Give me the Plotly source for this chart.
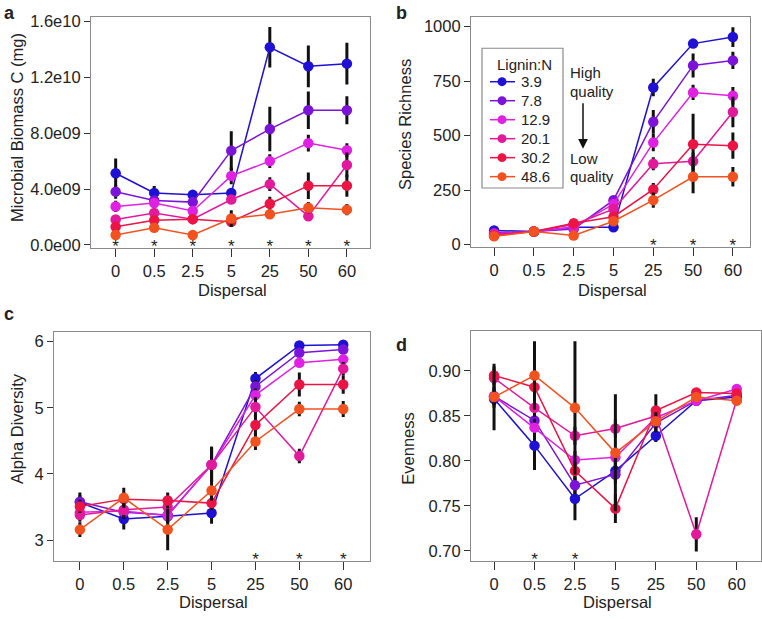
import plotly.graph_objects as go

dispersal = ["0", "0.5", "2.5", "5", "25", "50", "60"]
lignin = ["3.9", "7.8", "12.9", "20.1", "30.2", "48.6"]
colors = ["#1E10D4", "#7B14D8", "#E020E2", "#E3199C", "#EB1445", "#F2521F"]

# Panel a: microbial biomass C (mg)
biomass = [
    [5.13e9, 3.72e9, 3.58e9, 3.72e9, 14.16e9, 12.8e9, 12.99e9],
    [3.81e9, 3.18e9, 3.06e9, 6.75e9, 8.3e9, 9.65e9, 9.65e9],
    [2.75e9, 3.0e9, 2.42e9, 4.94e9, 6.0e9, 7.29e9, 6.78e9],
    [1.81e9, 2.28e9, 1.84e9, 3.25e9, 4.35e9, 2.05e9, 5.72e9],
    [1.29e9, 1.76e9, 1.84e9, 1.65e9, 2.94e9, 4.24e9, 4.24e9],
    [0.7e9, 1.22e9, 0.7e9, 1.88e9, 2.19e9, 2.66e9, 2.52e9],
]
biomass_err = [
    [1.05e9, 0.5e9, 0.3e9, 0.3e9, 1.45e9, 1.5e9, 1.5e9],
    [0.5e9, 0.3e9, 0.3e9, 1.4e9, 1.6e9, 1.35e9, 1.0e9],
    [0.4e9, 0.3e9, 0.3e9, 0.6e9, 0.5e9, 0.6e9, 0.5e9],
    [0.3e9, 0.3e9, 0.2e9, 0.3e9, 0.5e9, 0.3e9, 0.9e9],
    [0.3e9, 0.3e9, 0.2e9, 0.3e9, 0.5e9, 0.95e9, 0.8e9],
    [0.2e9, 0.3e9, 0.2e9, 0.6e9, 0.3e9, 0.4e9, 0.4e9],
]
biomass_stars = ["0", "0.5", "2.5", "5", "25", "50", "60"]

# Panel b: species richness
richness = [
    [65, 60, 80, 80, 721, 922, 952],
    [54, 60, 72, 204, 563, 822, 845],
    [50, 60, 80, 186, 468, 698, 683],
    [45, 60, 92, 163, 371, 382, 608],
    [42, 60, 98, 128, 253, 460, 454],
    [38, 60, 42, 107, 204, 311, 311],
]
richness_err = [
    [10, 8, 10, 15, 40, 15, 45],
    [10, 8, 10, 20, 55, 55, 40],
    [8, 8, 10, 20, 40, 35, 40],
    [8, 8, 10, 20, 30, 40, 70],
    [8, 8, 10, 15, 30, 140, 60],
    [8, 8, 10, 15, 35, 75, 45],
]
richness_stars = ["25", "50", "60"]

# Panel c: alpha diversity
alpha = [
    [3.57, 3.32, 3.36, 3.41, 5.44, 5.94, 5.95],
    [3.58, 3.42, 3.38, 4.14, 5.32, 5.83, 5.88],
    [3.42, 3.44, 3.37, 4.14, 5.19, 5.68, 5.73],
    [3.38, 3.46, 3.50, 4.14, 5.01, 4.27, 5.59],
    [3.51, 3.62, 3.60, 3.56, 4.74, 5.35, 5.35],
    [3.16, 3.64, 3.16, 3.75, 4.49, 4.98, 4.98],
]
alpha_err = [
    [0.15, 0.16, 0.1, 0.16, 0.1, 0.03, 0.03],
    [0.1, 0.1, 0.1, 0.27, 0.1, 0.05, 0.05],
    [0.1, 0.1, 0.1, 0.25, 0.1, 0.05, 0.05],
    [0.1, 0.1, 0.1, 0.27, 0.15, 0.11, 0.1],
    [0.1, 0.1, 0.12, 0.1, 0.15, 0.18, 0.14],
    [0.11, 0.15, 0.31, 0.15, 0.13, 0.11, 0.12],
]
alpha_stars = ["25", "50", "60"]

# Panel d: evenness
evenness = [
    [0.869, 0.817, 0.758, 0.789, 0.828, 0.867, 0.871],
    [0.872, 0.845, 0.773, 0.785, 0.842, 0.867, 0.873],
    [0.872, 0.837, 0.801, 0.804, 0.848, 0.867, 0.880],
    [0.892, 0.859, 0.828, 0.836, 0.850, 0.7185, 0.868],
    [0.895, 0.882, 0.789, 0.747, 0.856, 0.876, 0.875],
    [0.871, 0.895, 0.859, 0.809, 0.844, 0.871, 0.867],
]
evenness_err = [
    [0.01, 0.027, 0.024, 0.01, 0.007, 0.005, 0.005],
    [0.01, 0.01, 0.01, 0.01, 0.01, 0.005, 0.005],
    [0.01, 0.01, 0.01, 0.01, 0.01, 0.005, 0.005],
    [0.01, 0.01, 0.01, 0.01, 0.01, 0.019, 0.005],
    [0.01, 0.01, 0.01, 0.016, 0.018, 0.005, 0.005],
    [0.037, 0.038, 0.074, 0.065, 0.01, 0.005, 0.005],
]
evenness_stars = ["0.5", "2.5"]

FONT = "Liberation Sans, Arial, Helvetica, sans-serif"
W, H = 762, 619
TXT = "#222222"
BOX = "#8a8a8a"
FS = 16.5

def px_x(x):
    return x / W

def px_y(y):
    return 1 - y / H

panels = [
    dict(data=biomass, err=biomass_err, stars=biomass_stars, star_y=-0.22e9,
         xd=[px_x(91), px_x(370)], yd=[px_y(248), px_y(13)],
         xr=[-0.64, 6.6], yr=[-0.23e9, 1.635e10],
         tv=[0, 4e9, 8e9, 1.2e10, 1.6e10],
         tt=["0.0e00", "4.0e09", "8.0e09", "1.2e10", "1.6e10"]),
    dict(data=richness, err=richness_err, stars=richness_stars, star_y=-10.5,
         xd=[px_x(471), px_x(750)], yd=[px_y(247), px_y(13)],
         xr=[-0.58, 6.43], yr=[-11, 1045],
         tv=[0, 250, 500, 750, 1000], tt=["0", "250", "500", "750", "1000"]),
    dict(data=alpha, err=alpha_err, stars=alpha_stars, star_y=2.689,
         xd=[px_x(54), px_x(370)], yd=[px_y(566), px_y(333)],
         xr=[-0.59, 6.61], yr=[2.688, 6.149],
         tv=[3, 4, 5, 6], tt=["3", "4", "5", "6"]),
    dict(data=evenness, err=evenness_err, stars=evenness_stars, star_y=0.6893,
         xd=[px_x(471), px_x(761)], yd=[px_y(566), px_y(332)],
         xr=[-0.57, 6.6], yr=[0.689, 0.9448],
         tv=[0.70, 0.75, 0.80, 0.85, 0.90], tt=["0.70", "0.75", "0.80", "0.85", "0.90"]),
]

fig = go.Figure()
layout = {}
for i, p in enumerate(panels):
    n = i + 1
    xa = "x" if n == 1 else f"x{n}"
    ya = "y" if n == 1 else f"y{n}"
    for j, lab in enumerate(lignin):
        fig.add_trace(go.Scatter(
            x=dispersal, y=p["data"][j], xaxis=xa, yaxis=ya,
            mode="lines+markers", name=lab, showlegend=False,
            line=dict(color=colors[j], width=1.5),
            marker=dict(color=colors[j], size=10.5),
            error_y=dict(type="data", array=p["err"][j], color="#111111",
                         thickness=3, width=0),
        ))
    fig.add_trace(go.Scatter(
        x=p["stars"], y=[p["star_y"]] * len(p["stars"]), xaxis=xa, yaxis=ya,
        mode="text", text=["*"] * len(p["stars"]), showlegend=False,
        cliponaxis=False,
        textfont=dict(size=17, color=TXT, family=FONT), hoverinfo="skip",
    ))
    axx = dict(domain=p["xd"], anchor=ya, type="category",
               categoryorder="array", categoryarray=dispersal,
               range=p["xr"], showline=True, mirror=True, linecolor=BOX,
               linewidth=1.2, ticks="outside", ticklen=8, tickcolor="#333333",
               tickwidth=1.2, showgrid=False, zeroline=False,
               tickfont=dict(size=FS, color=TXT, family=FONT))
    axy = dict(domain=p["yd"], anchor=xa, range=p["yr"], tickvals=p["tv"],
               ticktext=p["tt"], showline=True, mirror=True, linecolor=BOX,
               linewidth=1.2, ticks="outside", ticklen=6, tickcolor="#333333",
               tickwidth=1.2, showgrid=False, zeroline=False,
               tickfont=dict(size=FS, color=TXT, family=FONT))
    layout["xaxis" if n == 1 else f"xaxis{n}"] = axx
    layout["yaxis" if n == 1 else f"yaxis{n}"] = axy

fig.update_layout(**layout)

ann = []
shapes = []
def txt(x, y, s, size=FS, rot=0, bold=False, xanchor="center", yanchor="middle"):
    ann.append(dict(xref="paper", yref="paper", x=px_x(x), y=px_y(y),
                    text=(f"<b>{s}</b>" if bold else s),
                    showarrow=False, textangle=rot, xanchor=xanchor, yanchor=yanchor,
                    font=dict(size=size, color=TXT, family=FONT)))

# panel letters
txt(9, 9, "a", 18, bold=True)
txt(401, 9, "b", 18, bold=True)
txt(9, 315, "c", 18, bold=True)
txt(401, 347, "d", 18, bold=True)
# axis titles
txt(17, 126, "Microbial Biomass C (mg)", FS, rot=-90)
txt(232, 302, "Dispersal", FS, yanchor="bottom")
txt(405, 123, "Species Richness", FS, rot=-90)
txt(612, 302, "Dispersal", FS, yanchor="bottom")
txt(17, 432, "Alpha Diversity", FS, rot=-90)
txt(213, 619, "Dispersal", FS, yanchor="bottom")
txt(408, 452, "Evenness", FS, rot=-90)
txt(617, 619, "Dispersal", FS, yanchor="bottom")

# legend (panel b)
shapes.append(dict(type="rect", xref="paper", yref="paper",
                   x0=px_x(482), x1=px_x(563), y0=px_y(187), y1=px_y(45),
                   line=dict(color=BOX, width=1.2), fillcolor="white", layer="above"))
txt(495, 62, "Lignin:N", 15, xanchor="left")
for j, lab in enumerate(lignin):
    yy = 79 + 19.3 * j
    shapes.append(dict(type="line", xref="paper", yref="paper",
                       x0=px_x(490), x1=px_x(515), y0=px_y(yy), y1=px_y(yy),
                       line=dict(color=colors[j], width=1.5), layer="above"))
    shapes.append(dict(type="circle", xref="paper", yref="paper",
                       x0=px_x(502 - 4.5), x1=px_x(502 + 4.5),
                       y0=px_y(yy + 4.5), y1=px_y(yy - 4.5),
                       line=dict(color=colors[j], width=0), fillcolor=colors[j],
                       layer="above"))
    txt(519, yy, lab, 15, xanchor="left")

# quality notes
txt(568, 70, "High", 15, xanchor="left")
txt(568, 89, "quality", 15, xanchor="left")
txt(568, 157, "Low", 15, xanchor="left")
txt(568, 175, "quality", 15, xanchor="left")
ann.append(dict(xref="paper", yref="paper", x=px_x(583), y=px_y(147),
                ax=0, ay=-47, axref="pixel", ayref="pixel",
                showarrow=True, arrowhead=2, arrowsize=1.3, arrowwidth=1.5,
                arrowcolor="#111111", text=""))

fig.update_layout(
    width=W, height=H, margin=dict(l=0, r=0, t=0, b=0),
    paper_bgcolor="white", plot_bgcolor="white",
    font=dict(family=FONT, color=TXT),
    annotations=ann, shapes=shapes, showlegend=False,
)

fig.write_html("out.html", config={"displayModeBar": False},
               post_script="document.body.style.margin='0px';")
